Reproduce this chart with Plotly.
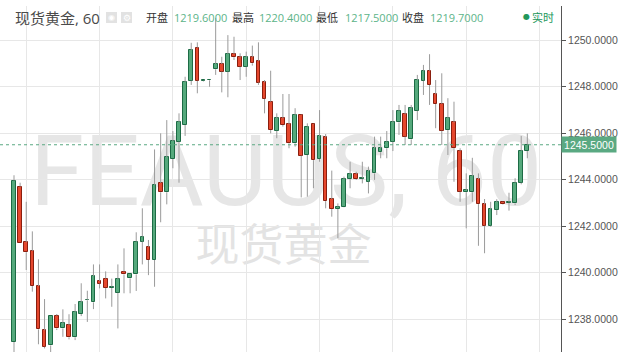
import plotly.graph_objects as go

# ---------------- data (hourly candles) ----------------
opens = [1237.03, 1243.70, 1241.31, 1240.94, 1239.43, 1237.53, 1236.88, 1238.16, 1237.61, 1237.76,
         1237.23, 1238.23, 1238.82, 1238.73, 1239.65, 1239.75, 1239.35, 1239.14, 1240.05, 1239.76,
         1239.93, 1241.34, 1241.12, 1240.55, 1243.86, 1243.46, 1244.89, 1245.63, 1246.35, 1248.25,
         1249.67, 1248.25, 1248.27, 1248.74, 1248.97, 1248.64, 1249.40, 1249.26, 1248.85, 1249.26,
         1249.10, 1248.18, 1247.35, 1246.10, 1246.64, 1246.38, 1245.56, 1246.78, 1245.06, 1246.38,
         1244.89, 1245.82, 1243.17, 1242.74, 1242.81, 1244.03, 1244.24, 1244.03, 1243.91, 1244.27,
         1245.18, 1245.35, 1245.63, 1246.46, 1246.81, 1245.73, 1246.96, 1248.25, 1248.68, 1247.67,
         1247.26, 1246.13, 1246.46, 1245.23, 1243.46, 1243.46, 1244.03, 1242.94, 1242.02, 1242.70,
         1243.03, 1243.00, 1242.98, 1243.87, 1245.23]
highs = [1244.19, 1243.87, 1243.05, 1241.78, 1240.58, 1238.87, 1238.16, 1238.23, 1238.43, 1238.22,
         1238.66, 1239.55, 1239.23, 1240.36, 1240.36, 1240.06, 1239.75, 1240.36, 1241.05, 1239.95,
         1241.74, 1242.77, 1241.41, 1245.30, 1245.99, 1246.56, 1246.09, 1246.85, 1248.42, 1249.88,
         1249.90, 1248.27, 1248.29, 1250.95, 1249.28, 1250.21, 1250.14, 1249.43, 1249.50, 1249.76,
         1249.90, 1248.28, 1248.68, 1246.85, 1247.68, 1247.68, 1247.07, 1246.80, 1246.42, 1246.40,
         1246.99, 1245.96, 1244.39, 1242.98, 1244.13, 1244.77, 1244.34, 1244.77, 1244.56, 1245.85,
         1245.85, 1246.09, 1246.99, 1247.21, 1247.21, 1247.21, 1248.50, 1248.93, 1249.39, 1248.28,
         1248.57, 1247.50, 1247.35, 1245.35, 1244.27, 1244.94, 1244.27, 1243.17, 1243.05, 1243.16,
         1243.05, 1243.44, 1244.06, 1245.88, 1245.99]
lows = [1236.30, 1241.29, 1240.12, 1239.19, 1236.93, 1236.75, 1236.50, 1237.54, 1237.25, 1237.14,
        1237.11, 1238.14, 1237.89, 1238.44, 1239.33, 1238.90, 1238.54, 1237.61, 1239.12, 1239.12,
        1239.22, 1240.36, 1239.90, 1239.40, 1242.17, 1242.94, 1244.49, 1243.87, 1245.88, 1248.07,
        1247.71, 1248.22, 1247.99, 1248.50, 1247.75, 1247.54, 1249.14, 1248.28, 1248.42, 1248.90,
        1248.07, 1246.85, 1245.99, 1245.78, 1246.28, 1245.35, 1245.42, 1243.24, 1243.27, 1243.63,
        1244.77, 1242.77, 1242.41, 1241.48, 1242.80, 1243.63, 1243.99, 1243.84, 1243.41, 1243.99,
        1244.92, 1244.92, 1245.23, 1245.92, 1245.49, 1245.49, 1246.56, 1247.64, 1247.21, 1246.21,
        1245.49, 1245.06, 1243.91, 1243.05, 1241.91, 1243.05, 1241.16, 1240.84, 1241.98, 1242.48,
        1242.92, 1242.67, 1242.91, 1243.80, 1244.92]
closes = [1243.96, 1241.29, 1240.88, 1239.43, 1237.57, 1236.82, 1238.16, 1237.61, 1237.83, 1237.23,
          1238.31, 1238.74, 1238.84, 1239.86, 1239.53, 1239.35, 1239.40, 1239.73, 1239.93, 1239.93,
          1241.34, 1241.55, 1240.55, 1243.78, 1243.46, 1244.96, 1245.66, 1246.48, 1248.20, 1249.56,
          1248.25, 1248.27, 1248.29, 1248.97, 1248.64, 1249.40, 1249.26, 1248.85, 1249.26, 1249.00,
          1248.17, 1247.47, 1246.13, 1246.64, 1246.35, 1245.56, 1246.78, 1245.03, 1246.28, 1244.84,
          1245.88, 1243.08, 1242.74, 1242.84, 1244.03, 1244.24, 1244.03, 1244.06, 1244.37, 1245.35,
          1245.35, 1245.63, 1246.46, 1246.96, 1245.85, 1247.07, 1248.28, 1248.68, 1248.07, 1247.25,
          1246.10, 1246.64, 1245.35, 1243.48, 1243.54, 1244.16, 1242.95, 1242.02, 1242.74, 1243.03,
          1242.94, 1243.03, 1243.87, 1245.24, 1245.50]

y_ticks = [1238, 1240, 1242, 1244, 1246, 1248, 1250]
title_text = "现货黄金, 60"
ohlc_labels = ["开盘", "最高", "最低", "收盘"]
ohlc_values = ["1219.6000", "1220.4000", "1217.5000", "1219.7000"]
watermark_main = "FEAUUS, 60"
watermark_sub = "现货黄金"
live_text = "实时"

# ---------------- styling ----------------
W, H = 627, 352
M_L, M_R, M_T, M_B = 0, 66, 6, 0
PW, PH = W - M_L - M_R, H - M_T - M_B

UP_FILL, UP_LINE = "#55a97c", "#1d6b45"
DN_FILL, DN_LINE = "#e5472d", "#8a1e0e"
WICK = "#9b9b9b"
GRID = "#e7e7e7"
VAL_GREEN = "#5cb489"
LIVE_GREEN = "#22975b"
LAST_GREEN = "#5aa982"
CJK = "Open Sans, Noto Sans CJK SC, sans-serif"


def hx(px):
    return (px - M_L) / PW


def hy(py):
    return (H - M_B - py) / PH


idx = list(range(len(closes)))

# wick segments (upper and lower), excluding the body
wx, wy = [], []
for i, o, h, l, c in zip(idx, opens, highs, lows, closes):
    top, bot = max(o, c), min(o, c)
    wx += [i, i, None, i, i, None]
    wy += [top, h, None, l, bot, None]

body_base = [min(o, c) for o, c in zip(opens, closes)]
body_h = [max(abs(c - o), 0.012) for o, c in zip(opens, closes)]
fill_cols = [UP_FILL if c >= o else DN_FILL for o, c in zip(opens, closes)]
line_cols = [UP_LINE if c >= o else DN_LINE for o, c in zip(opens, closes)]

fig = go.Figure()
fig.add_trace(go.Bar(
    x=idx, y=body_h, base=body_base, width=0.6,
    marker=dict(color=fill_cols, line=dict(color=line_cols, width=1)),
    hoverinfo="skip", showlegend=False,
))
fig.add_trace(go.Scatter(
    x=wx, y=wy, mode="lines", line=dict(color=WICK, width=1),
    hoverinfo="skip", showlegend=False, connectgaps=False,
))

px_per_bar = 6.111
x0 = -(14 - M_L) / px_per_bar
x1 = x0 + PW / px_per_bar
ppu = 23.28  # px per price unit
y_top = 1250 + (40 - M_T) / ppu
y_bot = y_top - PH / ppu

last = closes[-1]

shapes = [
    # watermark boxes (labels only)
    dict(type="rect", xref="paper", yref="paper", x0=hx(0), x1=hx(572), y0=hy(210), y1=hy(118),
         line=dict(width=0), fillcolor="rgba(0,0,0,0)", layer="below",
         label=dict(text=watermark_main, font=dict(family="Roboto, sans-serif", size=98, color="#e6e6e6"),
                    textposition="middle center")),
    dict(type="rect", xref="paper", yref="paper", x0=hx(183), x1=hx(384), y0=hy(275), y1=hy(223),
         line=dict(width=0), fillcolor="rgba(0,0,0,0)", layer="below",
         label=dict(text=watermark_sub, font=dict(family="Noto Sans CJK SC, sans-serif", size=44, color="#e3e3e3"),
                    textposition="middle center")),
    # last price dotted line
    dict(type="line", xref="paper", yref="y", x0=0, x1=1, y0=last, y1=last,
         line=dict(color=LAST_GREEN, width=1, dash="dot")),
    # header icon squares
    dict(type="rect", xref="paper", yref="paper", x0=hx(106), x1=hx(117), y0=hy(23), y1=hy(12),
         line=dict(width=0), fillcolor="#e2e2e2"),
    dict(type="rect", xref="paper", yref="paper", x0=hx(121), x1=hx(132), y0=hy(23), y1=hy(12),
         line=dict(width=0), fillcolor="#e2e2e2"),
]

annotations = [
    dict(text=title_text, x=hx(13), y=hy(17.5), xref="paper", yref="paper", xanchor="left", yanchor="middle",
         showarrow=False, font=dict(family=CJK, size=15, color="#4a4a4a")),
    dict(text="◉", x=hx(111.5), y=hy(17.5), xref="paper", yref="paper", xanchor="center", yanchor="middle",
         showarrow=False, font=dict(family="DejaVu Sans", size=8, color="#ffffff")),
    dict(text="⚙", x=hx(126.5), y=hy(17.5), xref="paper", yref="paper", xanchor="center", yanchor="middle",
         showarrow=False, font=dict(family="DejaVu Sans", size=9, color="#ffffff")),
    dict(text="●", x=hx(521), y=hy(17), xref="paper", yref="paper", xanchor="left", yanchor="middle",
         showarrow=False, font=dict(family="DejaVu Sans", size=8, color=LIVE_GREEN)),
    dict(text=live_text, x=hx(529.5), y=hy(17.5), xref="paper", yref="paper", xanchor="left", yanchor="middle",
         showarrow=False, font=dict(family=CJK, size=11, color=LIVE_GREEN)),
    dict(text=f"{last:.4f}", x=1, y=last, xref="paper", yref="y", xanchor="left", yanchor="middle",
         showarrow=False, bgcolor=LAST_GREEN, width=54, height=15, borderpad=0,
         font=dict(family="Arial, Liberation Sans, sans-serif", size=10.5, color="#ffffff")),
]
label_x = [144, 230, 314.5, 399.5]
value_x = [171.5, 256.5, 342.5, 427.5]
for lab, lx, val, vx in zip(ohlc_labels, label_x, ohlc_values, value_x):
    annotations.append(dict(text=lab, x=hx(lx), y=hy(17.5), xref="paper", yref="paper", xanchor="left",
                            yanchor="middle", showarrow=False, font=dict(family=CJK, size=11, color="#333333")))
    annotations.append(dict(text=val, x=hx(vx), y=hy(17.5), xref="paper", yref="paper", xanchor="left",
                            yanchor="middle", showarrow=False, font=dict(family=CJK, size=11, color=VAL_GREEN)))

fig.update_layout(
    width=W, height=H,
    margin=dict(l=M_L, r=M_R, t=M_T, b=M_B, autoexpand=False),
    paper_bgcolor="#ffffff", plot_bgcolor="rgba(0,0,0,0)",
    barmode="overlay", bargap=0, showlegend=False, hovermode=False,
    shapes=shapes, annotations=annotations,
    xaxis=dict(range=[x0, x1], showticklabels=False, ticks="", tick0=2, dtick=12,
               showgrid=True, gridcolor=GRID, gridwidth=1, zeroline=False, showline=False, fixedrange=True),
    yaxis=dict(range=[y_bot, y_top], side="right", tickvals=y_ticks, tickformat=".4f",
               showgrid=True, gridcolor=GRID, gridwidth=1, zeroline=False,
               showline=True, linecolor="#555555", linewidth=1,
               ticks="outside", ticklen=4, tickcolor="#555555",
               tickfont=dict(family="Arial, Liberation Sans, sans-serif", size=10.5, color="#555555"),
               fixedrange=True),
)

fig.write_html("out.html", config={"displayModeBar": False})
